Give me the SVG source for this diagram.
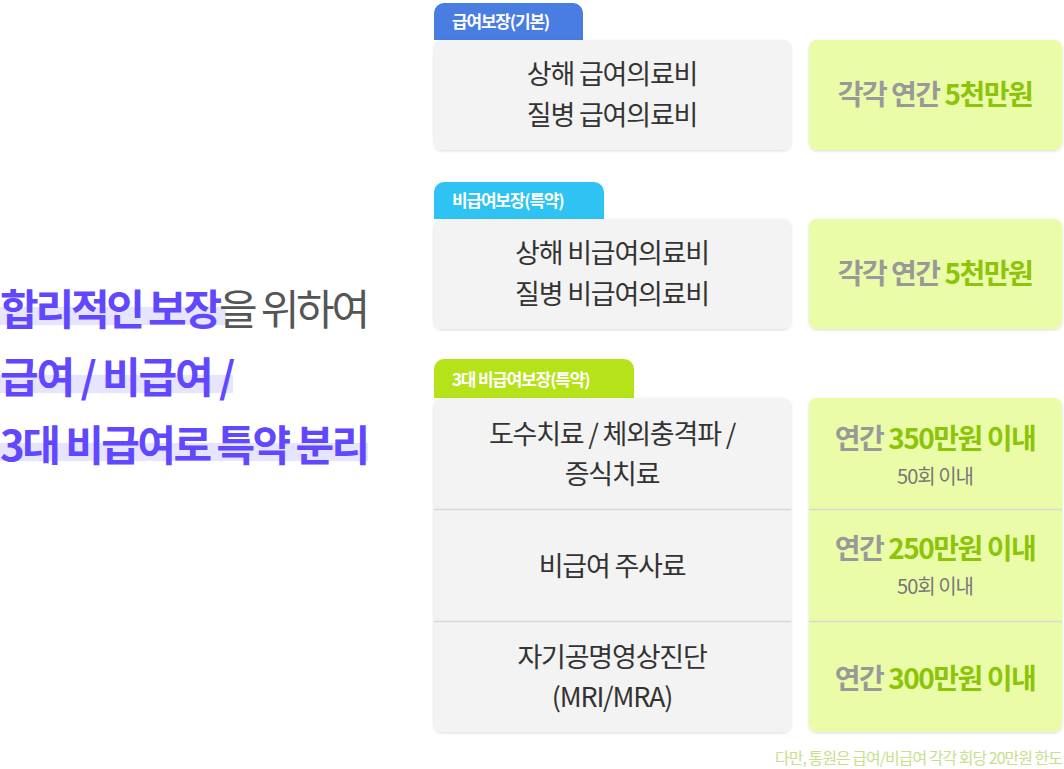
<svg xmlns="http://www.w3.org/2000/svg" width="1064" height="769" viewBox="0 0 1064 769">
<defs>
<filter id="sh" x="-5%" y="-5%" width="110%" height="115%"><feDropShadow dx="0" dy="1" stdDeviation="1.5" flood-color="#000" flood-opacity="0.15"/></filter>
</defs>
<style>
text{font-family:"Noto Sans CJK KR","Noto Sans",sans-serif}
.box{fill:#f3f3f3;filter:url(#sh)}
.gbox{fill:#ebfca9;filter:url(#sh)}
.tab{font-size:17px;font-weight:700;fill:#fff;letter-spacing:-1.2px}
.lt{font-size:27px;fill:#333;text-anchor:middle;letter-spacing:-1.2px}
.rt{font-size:28px;font-weight:700;fill:#999;text-anchor:middle;letter-spacing:-1.5px}
.g{fill:#8cc40a}
.sm{font-size:20px;fill:#777;text-anchor:middle;letter-spacing:-1px}
.hd{font-size:42px;font-weight:700;fill:#6148ff;letter-spacing:-3.2px}
.hl{fill:#e6e4ff}
.div{stroke:#d8d8d8;stroke-width:1.5}
</style>
<g id="headline">
<rect class="hl" x="0" y="307" width="226" height="18"/>
<rect class="hl" x="0" y="375" width="233" height="18"/>
<rect class="hl" x="0" y="443" width="368" height="18"/>
<text class="hd" x="0" y="325">합리적인 보장<tspan fill="#555" font-weight="400">을 위하여</tspan></text>
<text class="hd" x="0" y="393" textLength="232">급여 / 비급여 /</text>
<text class="hd" x="0" y="461" textLength="367">3대 비급여로 특약 분리</text>
</g>
<g id="sec1">
<path d="M434 40V13a10 10 0 0 1 10-10h129a10 10 0 0 1 10 10v27z" fill="#4a7de2"/>
<text class="tab" x="452" y="28">급여보장(기본)</text>
<rect class="box" x="434" y="40" width="357" height="110" rx="8"/>
<text class="lt" x="612" y="84">상해 급여의료비</text>
<text class="lt" x="612" y="125">질병 급여의료비</text>
<rect class="gbox" x="809" y="40" width="253" height="110" rx="8"/>
<text class="rt" x="935" y="105">각각 연간 <tspan class="g">5천만원</tspan></text>
</g>
<g id="sec2">
<path d="M434 219V192a10 10 0 0 1 10-10h150a10 10 0 0 1 10 10v27z" fill="#2ec3f2"/>
<text class="tab" x="452" y="207">비급여보장(특약)</text>
<rect class="box" x="434" y="219" width="357" height="110" rx="8"/>
<text class="lt" x="612" y="263">상해 비급여의료비</text>
<text class="lt" x="612" y="304">질병 비급여의료비</text>
<rect class="gbox" x="809" y="219" width="253" height="110" rx="8"/>
<text class="rt" x="935" y="284">각각 연간 <tspan class="g">5천만원</tspan></text>
</g>
<g id="sec3">
<path d="M434 398V369a10 10 0 0 1 10-10h180a10 10 0 0 1 10 10v29z" fill="#b6e21a"/>
<text class="tab" x="452" y="386">3대 비급여보장(특약)</text>
<rect class="box" x="434" y="398" width="357" height="334" rx="8"/>
<rect class="gbox" x="809" y="398" width="253" height="334" rx="8"/>
<text class="lt" x="612" y="444">도수치료 / 체외충격파 /</text>
<text class="lt" x="612" y="484">증식치료</text>
<text class="lt" x="612" y="576">비급여 주사료</text>
<text class="lt" x="612" y="667">자기공명영상진단</text>
<text class="lt" x="612" y="707">(MRI/MRA)</text>
<text class="rt" x="935" y="449">연간 <tspan class="g">350만원 이내</tspan></text>
<text class="sm" x="935" y="484">50회 이내</text>
<text class="rt" x="935" y="559">연간 <tspan class="g">250만원 이내</tspan></text>
<text class="sm" x="935" y="594">50회 이내</text>
<text class="rt" x="935" y="689">연간 <tspan class="g">300만원 이내</tspan></text>
</g>
<g id="connectors">
<line class="div" x1="434" y1="509.5" x2="791" y2="509.5"/>
<line class="div" x1="434" y1="621.5" x2="791" y2="621.5"/>
<line class="div" x1="809" y1="509.5" x2="1062" y2="509.5"/>
<line class="div" x1="809" y1="621.5" x2="1062" y2="621.5"/>
</g>
<text x="1062" y="764" font-size="16" fill="#c6e08c" text-anchor="end" letter-spacing="-1">다만, 통원은 급여/비급여 각각 회당 20만원 한도</text>
</svg>
